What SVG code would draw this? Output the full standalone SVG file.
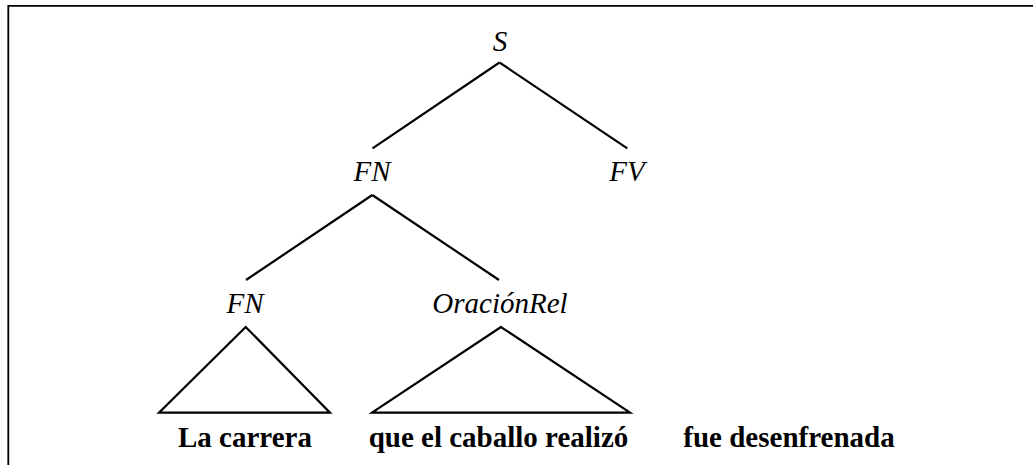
<svg xmlns="http://www.w3.org/2000/svg" width="1033" height="465" viewBox="0 0 1033 465">
<style>
.lbl{font-family:"Liberation Serif","Times New Roman",serif;font-style:italic;font-size:29px;fill:#000;text-anchor:middle}
.word{font-family:"Liberation Serif","Times New Roman",serif;font-weight:bold;font-size:29px;fill:#000;text-anchor:middle}
.edge{stroke:#000;stroke-width:2.2;fill:none;stroke-linecap:butt}
.tri{stroke:#000;stroke-width:2.2;fill:none;stroke-linejoin:miter}
</style>
<rect width="1033" height="465" fill="#fff"/>
<path d="M8.3,465 V5.8 H1033" fill="none" stroke="#000" stroke-width="1.8"/>
<g id="connectors">
<line class="edge" x1="499.5" y1="62.5" x2="372.5" y2="148.3"/>
<line class="edge" x1="499.5" y1="62.5" x2="627.3" y2="148.3"/>
<line class="edge" x1="372.3" y1="195" x2="246" y2="280"/>
<line class="edge" x1="372.3" y1="195" x2="499" y2="280"/>
</g>
<g id="node-S"><text class="lbl" x="500" y="51">S</text></g>
<g id="node-FN1"><text class="lbl" x="372" y="181">FN</text></g>
<g id="node-FV"><text class="lbl" x="627" y="181">FV</text></g>
<g id="node-FN2"><text class="lbl" x="245" y="313">FN</text>
<polygon class="tri" points="245.7,327 159,412.7 330,412.7"/>
<text class="word" x="245" y="447">La carrera</text></g>
<g id="node-OracionRel"><text class="lbl" x="500" y="313">OraciónRel</text>
<polygon class="tri" points="501,327 372,412.7 630,412.7"/>
<text class="word" x="498.5" y="447">que el caballo realizó</text></g>
<g id="node-fue"><text class="word" x="789" y="447">fue desenfrenada</text></g>
</svg>
